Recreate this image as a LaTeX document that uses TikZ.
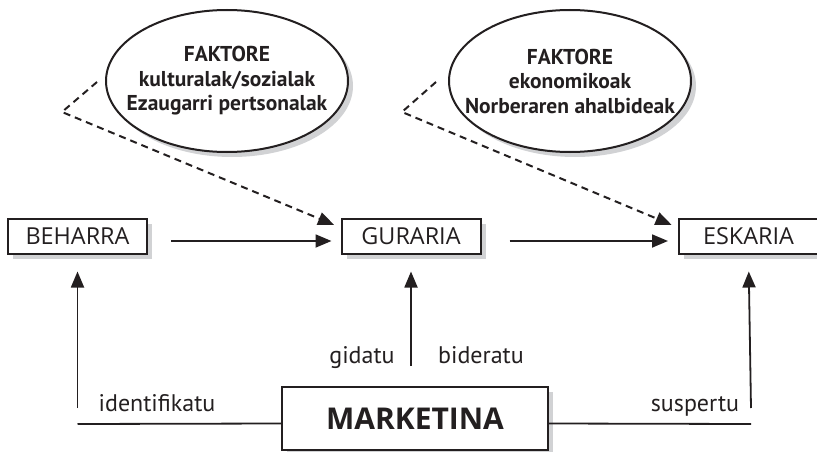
\documentclass[tikz,border=0pt]{standalone}
\usepackage{fontspec}
\setmainfont{PT Sans}
\newfontfamily\boxFont{Open Sans}
\usetikzlibrary{positioning, shapes.geometric, arrows.meta, shadows}
\tikzstyle{diagram} = [x = 1pt, y = -1pt]
\definecolor{inkColor}{RGB}{35,31,32}
\definecolor{shadowColor}{RGB}{209,210,212}
\tikzstyle{shadowStyle} = [drop shadow={shadow xshift=5pt, shadow yshift=-5pt, fill=shadowColor, opacity=1}]
\tikzstyle{stageBox} = [draw=inkColor, fill=white, line width=2pt, minimum width=139pt, minimum height=35pt, inner sep=0pt, text=inkColor, font=\boxFont\fontsize{23.4}{24}\selectfont, shadowStyle]
\tikzstyle{marketBox} = [stageBox, minimum width=266pt, minimum height=63pt, font=\boxFont\fontsize{30}{32}\selectfont\bfseries]
\tikzstyle{factorCloud} = [ellipse, draw=inkColor, fill=white, line width=2pt, minimum width=242pt, minimum height=142pt, inner xsep=-30pt, inner ysep=-10pt, align=center, text=inkColor, font=\fontsize{21.5}{24.5}\selectfont\bfseries, shadowStyle]
\tikzstyle{flowArrow} = [draw=inkColor, line width=1.8pt, -{Triangle[length=16pt, width=13pt]}]
\tikzstyle{dashArrow} = [flowArrow, line width=2pt, dash pattern=on 7pt off 5pt]
\tikzstyle{plainLine} = [draw=inkColor, line width=1.8pt]
\tikzstyle{verbText} = [font=\fontsize{24}{26}\selectfont, text=inkColor, inner sep=0pt]

\begin{document}
\begin{tikzpicture}[diagram]
  \useasboundingbox (0,0) rectangle (817,452);
  % factors
  \node[factorCloud] (culturalFactors) at (227,81) {FAKTORE\\kulturalak/sozialak\\Ezaugarri pertsonalak};
  \node[factorCloud] (economicFactors) at (570,81) {FAKTORE\\ekonomikoak\\Norberaren ahalbideak};
  % stages
  \node[stageBox] (beharra) at (77.5,236) {BEHARRA};
  \node[stageBox] (guraria) at (411,236) {GURARIA};
  \node[stageBox] (eskaria) at (748.5,236) {ESKARIA};
  \node[marketBox] (marketina) at (415,418.5) {MARKETINA};
  \coordinate (culturalBend) at (62,112);
  \coordinate (economicBend) at (402,112);
  \coordinate (leftFoot) at (77.5,424);
  \coordinate (rightFoot) at (751,424);
  % dashed influences
  \draw[dashArrow, shorten >=7pt] ([shift={(-8pt,-1pt)}]culturalFactors.west) -- (culturalBend) -- ([yshift=-10pt]guraria.north west);
  \draw[dashArrow, shorten >=7pt] ([shift={(-12pt,-1pt)}]economicFactors.west) -- (economicBend) -- ([yshift=-10pt]eskaria.north west);
  % main flow
  \draw[flowArrow, shorten <=23pt, shorten >=9pt] ([yshift=-5pt]beharra.east) -- ([yshift=-5pt]guraria.west);
  \draw[flowArrow, shorten <=28pt, shorten >=10pt] ([yshift=-5pt]guraria.east) -- ([yshift=-5pt]eskaria.west);
  % marketing
  \draw[plainLine] ([yshift=-5pt]marketina.west) -- (leftFoot);
  \draw[plainLine] ([yshift=-5pt]marketina.east) -- (rightFoot);
  \draw[flowArrow, shorten >=17pt] ([yshift=16pt]leftFoot) -- (beharra.south);
  \draw[flowArrow, shorten <=20pt, shorten >=17pt] (marketina.north -| guraria.south) -- (guraria.south);
  \draw[flowArrow, shorten >=17pt] ([yshift=16pt]rightFoot) -- (eskaria.south);
  \node[verbText, anchor=base] (identLabel) at (157,411) {identifikatu};
  \node[verbText, anchor=base] (gidatuLabel) at (362,363) {gidatu};
  \node[verbText, anchor=base] (bideratuLabel) at (481,363) {bideratu};
  \node[verbText, anchor=base] (suspertuLabel) at (695,411) {suspertu};
\end{tikzpicture}
\end{document}
